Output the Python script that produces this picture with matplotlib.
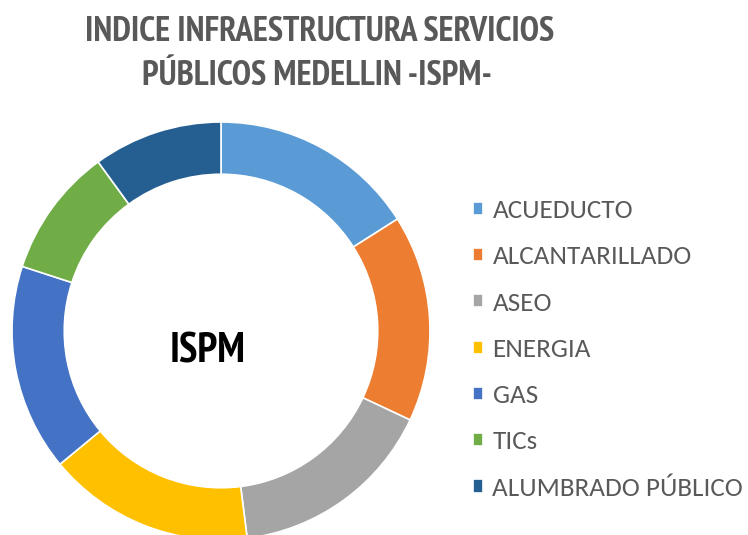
import matplotlib
matplotlib.use("Agg")
import matplotlib.pyplot as plt

LABELS = ["ACUEDUCTO", "ALCANTARILLADO", "ASEO", "ENERGIA", "GAS", "TICs",
          "ALUMBRADO PÚBLICO"]
VALUES = [16, 16, 16, 16, 16, 10, 10]
COLORS = ["#5B9BD5", "#ED7D31", "#A5A5A5", "#FFC000", "#4472C4", "#70AD47",
          "#255E91"]

TITLE_FONT = ["PT Sans Narrow", "Roboto Condensed", "Archivo Narrow", "DejaVu Sans"]
LEGEND_FONT = ["Carlito", "Open Sans", "DejaVu Sans"]
TEXT_GRAY = "#595959"

W, H = 748, 535
fig = plt.figure(figsize=(W / 100, H / 100), dpi=100)
fig.patch.set_facecolor("white")

# ring centre ~ (221, 331) px, outer radius ~ 209 px
cx, cy, r = 221, 331, 209
ax = fig.add_axes([(cx - r) / W, (H - cy - r) / H, 2 * r / W, 2 * r / H])
wedges, _ = ax.pie(VALUES, colors=COLORS, startangle=90, counterclock=False,
                   radius=1.0,
                   wedgeprops=dict(width=0.25, edgecolor="white", linewidth=1.2))
ax.set_xlim(-1, 1)
ax.set_ylim(-1, 1)
ax.set_aspect("equal")
ax.axis("off")

ax.text(-0.065, -0.10, "ISPM", ha="center", va="center", fontsize=30,
        fontweight="bold", color="black", family=TITLE_FONT)

fig.text(320 / W, 1 - 32 / H, "INDICE INFRAESTRUCTURA SERVICIOS",
         ha="center", va="center", fontsize=25, fontweight="bold",
         color=TEXT_GRAY, family=TITLE_FONT)
fig.text(317 / W, 1 - 76 / H, "PÚBLICOS MEDELLIN -ISPM-",
         ha="center", va="center", fontsize=25, fontweight="bold",
         color=TEXT_GRAY, family=TITLE_FONT)

leg = fig.legend(wedges, LABELS, loc="upper left",
                 bbox_to_anchor=(473 / W, 1 - 199 / H), frameon=False,
                 borderpad=0, borderaxespad=0,
                 prop={"family": LEGEND_FONT, "size": 19.5},
                 labelcolor=TEXT_GRAY, handlelength=0.37, handleheight=0.37,
                 handletextpad=0.35, labelspacing=0.86)

fig.savefig("out.png", dpi=100, facecolor="white")
